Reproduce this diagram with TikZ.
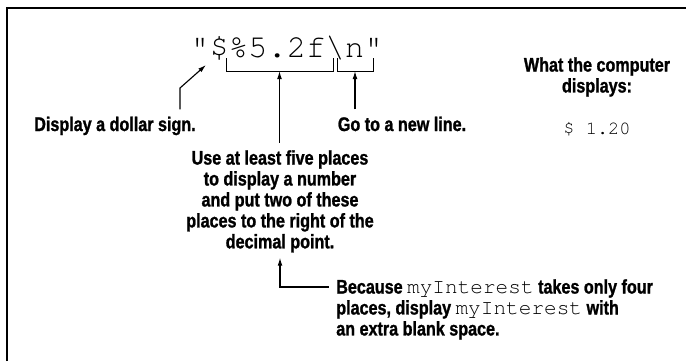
\documentclass[tikz,border=0pt]{standalone}
\usepackage{fontspec}
\setmainfont[FakeStretch=0.82, BoldFeatures={FakeBold=1.2}]{Liberation Sans}
\newfontfamily\cursorfont{TeX Gyre Cursor}
\usetikzlibrary{arrows.meta}
\newcommand{\codetxt}[1]{{\cursorfont\mdseries\fontsize{15}{14.9}\selectfont #1}}

\begin{document}
\begin{tikzpicture}[
    rotulo/.style={font=\bfseries\fontsize{14}{14.9}\selectfont, inner sep=0pt},
    seta/.style={-{Latex[length=0.2cm,width=0.12cm]}, line width=0.8pt, shorten <=0.18cm},
    chave/.style={line width=0.7pt}
  ]
  \useasboundingbox (0,0) rectangle (17.15,-9.025);

  % Moldura
  \draw[line width=1.4pt] (0.175,-9.025) -- (0.175,-0.2) -- (17.15,-0.2);

  % Formato
  \node[anchor=base west, inner sep=0pt, font=\cursorfont\fontsize{22.9}{24}\selectfont] (fmt) at (4.75,-1.425) {"\$\%5.2f\textbackslash n"};

  % Chaves
  \draw[chave] (5.65,-1.45) -- (5.65,-1.775) -- (8.325,-1.775) -- (8.325,-1.45);
  \draw[chave] (8.425,-1.45) -- (8.425,-1.775) -- (9.325,-1.775) -- (9.325,-1.45);
  \coordinate (brA) at (6.9875,-1.775);
  \coordinate (brB) at (8.875,-1.775);

  % Textos
  \node[rotulo, anchor=base] (dollar) at (2.875,-3.275) {Display a dollar sign.};
  \node[rotulo, anchor=base] (newline) at (10.05,-3.275) {Go to a new line.};
  \node[rotulo, anchor=north, align=center] (places) at (7,-3.75)
    {Use at least five places\\to display a number\\and put two of these\\places to the right of the\\decimal point.};
  \node[rotulo, anchor=north, align=center] (what) at (14.925,-1.425) {What the computer\\displays:};
  \node[anchor=base, inner sep=0pt, font=\cursorfont\fontsize{13.3}{14}\selectfont] (shown) at (14.925,-3.35) {\$ 1.20};
  \node[rotulo, anchor=north west, align=left] (because) at (8.4,-6.975)
    {Because \codetxt{myInterest} takes only four\\places, display \codetxt{myInterest} with\\an extra blank space.};

  % Setas
  \coordinate (bend) at (4.5,-2.2);
  \coordinate (sign) at (5.15,-1.625);
  \draw[seta] (bend |- dollar.north) -- (bend) -- (sign);
  \draw[seta] (brA |- places.north) -- (brA);
  \draw[seta] (brB |- newline.north) -- (brB);
  \draw[seta, shorten >=0.125cm] ([yshift=-0.2cm]because.north west) -| (places.south);
\end{tikzpicture}
\end{document}
